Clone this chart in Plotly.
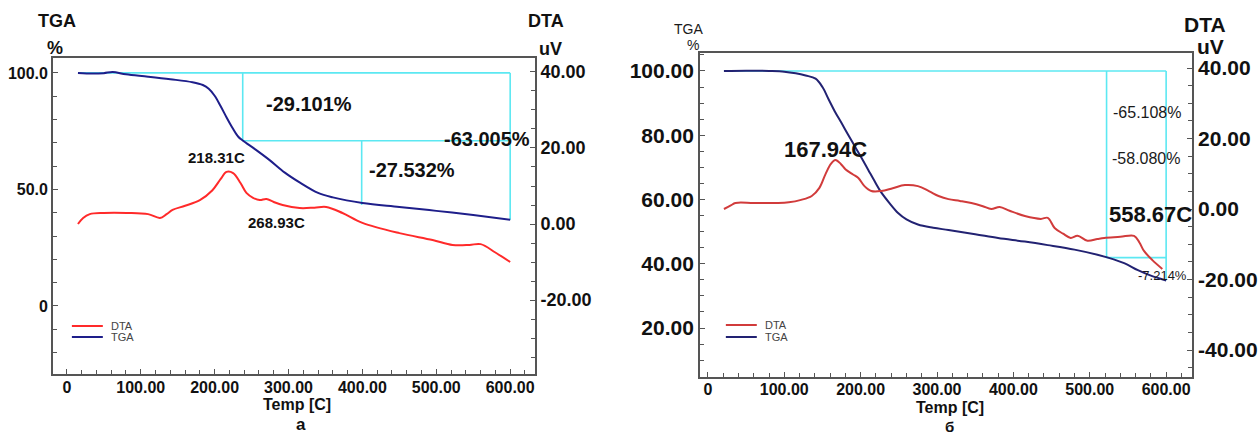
import plotly.graph_objects as go

W, H = 1258, 435

# ---------------- Panel a data ----------------
temp_tga_a = [15, 35, 50, 62, 80, 110, 140, 170, 184, 192, 200, 208, 216, 224, 232, 238, 255, 274, 295,
              315, 340, 360, 400, 450, 500, 550, 600]
tga_a = [100.0, 99.7, 99.9, 100.4, 99.4, 98.4, 97.3, 96.0, 94.8, 93.2, 90.2, 85.8, 81.0, 76.5, 72.6, 71.0,
         67.2, 62.7, 57.2, 53.0, 48.5, 46.6, 44.2, 42.5, 40.8, 39.0, 37.0]

temp_dta_a = [15, 22, 31, 50, 81, 110, 126, 135, 143, 160, 180, 197, 208, 216, 225, 235, 243, 252, 261,
              270, 280, 292, 315, 335, 351, 373, 400, 450, 495, 522, 545, 560, 580, 600]
dta_a = [0.0, 1.6, 2.6, 2.9, 2.9, 2.6, 1.6, 2.6, 3.7, 4.8, 6.3, 8.9, 11.8, 13.7, 13.4, 10.8, 8.2, 6.9, 6.3,
         6.6, 5.8, 5.0, 4.2, 4.3, 4.5, 2.9, 0.3, -2.4, -4.2, -5.5, -5.5, -5.3, -7.5, -10.0]

# mass-loss steps (temperature at end of step, loss %)
step_temp_a = [238, 399]
step_loss_a = [29.101, 27.532]
total_loss_a = 63.005
start_temp_a = 15
end_temp_a = 600

# ---------------- Panel b data ----------------
temp_tga_b = [21, 50, 80, 100, 115, 128, 141, 150, 158, 166, 175, 184, 193, 202, 210, 218, 227, 238, 249,
              260, 275, 295, 315, 350, 380, 415, 445, 480, 510, 524, 545, 563, 580, 600]
tga_b = [100.0, 100.1, 100.0, 99.8, 99.3, 98.6, 97.6, 95.0, 91.2, 87.5, 83.8, 80.0, 76.3, 72.6, 69.2,
         65.8, 62.2, 58.8, 55.8, 53.8, 52.2, 51.2, 50.5, 49.2, 48.0, 46.9, 45.8, 44.4, 42.8, 41.9, 40.2,
         38.0, 36.3, 34.8]

temp_dta_b = [21, 30, 36, 60, 90, 106, 122, 136, 146, 154, 161, 167, 174, 180, 190, 197, 205, 214, 227,
              242, 258, 275, 290, 302, 315, 330, 345, 360, 371, 382, 395, 415, 436, 445, 454, 465, 475,
              484, 497, 510, 519, 540, 558, 565, 571, 582, 595]
dta_b = [0.0, 1.0, 1.7, 1.7, 1.7, 1.9, 2.6, 3.7, 6.0, 9.9, 12.8, 13.9, 12.8, 11.3, 9.8, 8.8, 6.5, 5.1,
         5.1, 5.9, 6.8, 6.5, 5.0, 3.7, 2.8, 2.3, 1.7, 0.8, 0.0, 0.6, -0.5, -2.0, -2.8, -2.5, -5.4, -7.0,
         -8.2, -7.6, -9.0, -8.5, -8.2, -7.9, -7.6, -9.5, -11.9, -14.5, -17.0]

step_temp_b = [522]
step_loss_b = [58.080]
total_loss_b = 65.108
start_temp_b = 21
end_temp_b = 600

# tick labels
x_tickvals = [0, 100, 200, 300, 400, 500, 600]
x_ticktext = ["0", "100.00", "200.00", "300.00", "400.00", "500.00", "600.00"]
tga_a_tickvals = [0, 50, 100]
tga_a_ticktext = ["0", "50.0", "100.0"]
dta_a_tickvals = [-20, 0, 20, 40]
dta_a_ticktext = ["-20.00", "0.00", "20.00", "40.00"]
tga_b_tickvals = [20, 40, 60, 80, 100]
tga_b_ticktext = ["20.00", "40.00", "60.00", "80.00", "100.00"]
dta_b_tickvals = [-40, -20, 0, 20, 40]
dta_b_ticktext = ["-40.00", "-20.00", "0.00", "20.00", "40.00"]

FONT = "Arial, 'Liberation Sans', sans-serif"
CYAN = "#5ce8f2"
AXC = "#555555"


def px(x):
    return x / W


def py(y):
    return 1 - y / H


fig = go.Figure()


def step_lines(start_t, end_t, step_t, step_l, total, xa, ya):
    # cyan step boxes built from the step data
    lvl = 100.0
    xs, ys = [start_t, end_t, None, end_t, end_t, None], [100, 100, None, 100, 100 - total, None]
    for i, (t, l) in enumerate(zip(step_t, step_l)):
        new = lvl - l
        xs += [t, t, None]
        ys += [lvl, new, None]
        nxt = step_t[i + 1] if i + 1 < len(step_t) else end_t
        xs += [t, nxt, None]
        ys += [new, new, None]
        lvl = new
    fig.add_trace(go.Scatter(x=xs, y=ys, mode="lines", line=dict(color=CYAN, width=1.6),
                             xaxis=xa, yaxis=ya, showlegend=False, hoverinfo="skip"))


# Panel a
step_lines(start_temp_a, end_temp_a, step_temp_a[:1], step_loss_a[:1], total_loss_a, "x", "y")
lvl1 = 100 - step_loss_a[0]
fig.add_trace(go.Scatter(x=[step_temp_a[1], step_temp_a[1]], y=[lvl1, lvl1 - step_loss_a[1]], mode="lines",
                         line=dict(color=CYAN, width=1.6), xaxis="x", yaxis="y", showlegend=False,
                         hoverinfo="skip"))
fig.add_trace(go.Scatter(x=temp_dta_a, y=dta_a, mode="lines", line=dict(color="#ff2a2a", width=2),
                         xaxis="x", yaxis="y2", name="DTA", showlegend=False, line_shape="spline"))
fig.add_trace(go.Scatter(x=temp_tga_a, y=tga_a, mode="lines", line=dict(color="#1e1e8a", width=2),
                         xaxis="x", yaxis="y", name="TGA", showlegend=False, line_shape="spline"))

# Panel b
step_lines(start_temp_b, end_temp_b, step_temp_b, step_loss_b, total_loss_b, "x2", "y3")
fig.add_trace(go.Scatter(x=temp_dta_b, y=dta_b, mode="lines", line=dict(color="#d13b3b", width=2),
                         xaxis="x2", yaxis="y4", name="DTA", showlegend=False, line_shape="spline"))
fig.add_trace(go.Scatter(x=temp_tga_b, y=tga_b, mode="lines", line=dict(color="#222272", width=2),
                         xaxis="x2", yaxis="y3", name="TGA", showlegend=False, line_shape="spline"))

# domains
xa_dom = [px(53), px(536)]
ya_dom = [py(374), py(58)]
xb_dom = [px(701), px(1194)]
yb_dom = [py(377), py(53)]

common = dict(showgrid=False, zeroline=False, showline=True, linecolor=AXC, linewidth=1.5,
              ticks="inside", ticklen=5, tickcolor=AXC, tickwidth=1)


def minor(d):
    return dict(tickmode="linear", tick0=0, dtick=d, ticks="inside", ticklen=4, tickcolor=AXC, showgrid=False)


fig.update_layout(
    width=W, height=H, margin=dict(l=0, r=0, t=0, b=0),
    paper_bgcolor="white", plot_bgcolor="white", showlegend=False,
    font=dict(family=FONT, color="#111111"),
    xaxis=dict(domain=xa_dom, anchor="y", range=[-18.9, 633.8], mirror=True, tickmode="array",
               tickvals=x_tickvals, ticktext=x_ticktext, minor=minor(20), ticklabelstandoff=-2,
               tickfont=dict(size=16, color="#111", weight="bold"), **common),
    yaxis=dict(domain=ya_dom, anchor="x", range=[-29.2, 106.4], tickmode="array",
               tickvals=tga_a_tickvals, ticktext=tga_a_ticktext, minor=minor(10),
               tickfont=dict(size=16, color="#111", weight="bold"), **common),
    yaxis2=dict(overlaying="y", side="right", anchor="x", range=[-39.47, 43.68], tickmode="array",
                tickvals=dta_a_tickvals, ticktext=dta_a_ticktext, minor=minor(5),
                tickfont=dict(size=18, color="#111", weight="bold"), **common),
    xaxis2=dict(domain=xb_dom, anchor="y3", range=[-10.5, 634], mirror=True, tickmode="array",
                tickvals=x_tickvals, ticktext=x_ticktext, minor=minor(20), ticklabelstandoff=-3,
                tickfont=dict(size=16, color="#111", weight="bold"), **common),
    yaxis3=dict(domain=yb_dom, anchor="x2", range=[4.75, 105.6], tickmode="array",
                tickvals=tga_b_tickvals, ticktext=tga_b_ticktext, minor=minor(5),
                tickfont=dict(size=21, color="#111", weight="bold"), **common),
    yaxis4=dict(overlaying="y3", side="right", anchor="x2", range=[-47.66, 44.26], tickmode="array",
                tickvals=dta_b_tickvals, ticktext=dta_b_ticktext, minor=minor(5),
                tickfont=dict(size=21, color="#111", weight="bold"), **common),
)

annots = [
    # panel a axis headers
    ("TGA", 57, 21, 18),
    ("%", 55, 48, 18),
    ("DTA", 547, 21, 18),
    ("uV", 551, 49, 18),
    # panel a labels
    ("-29.101%", 309, 104, 20),
    ("-27.532%", 413, 170, 20),
    ("-63.005%", 488, 139, 20),
    ("218.31C", 217, 157, 15),
    ("268.93C", 277, 222, 15),
    ("Temp [C]", 297, 404, 16),
    ("а", 301, 424, 17),
    # panel b axis headers
    ("DTA", 1207, 24, 21),
    ("uV", 1212, 47, 21),
    # panel b labels
    ("167.94C", 827, 149, 22),
    ("558.67C", 1152, 215, 22),
    ("Temp [C]", 952, 407, 16),
    ("б", 951, 426, 15),
]
for txt, x, y, s in annots:
    fig.add_annotation(x=px(x), y=py(y), xref="paper", yref="paper", text=txt, showarrow=False,
                       xanchor="center", yanchor="middle",
                       font=dict(size=s, color="#111", family=FONT, weight="bold"))

annots_regular = [
    ("TGA", 690, 29, 14),
    ("%", 694, 45, 14),
    ("-65.108%", 1149, 113, 16),
    ("-58.080%", 1148, 158, 16),
    ("-7.214%", 1164, 275, 13),
]
for txt, x, y, s in annots_regular:
    fig.add_annotation(x=px(x), y=py(y), xref="paper", yref="paper", text=txt, showarrow=False,
                       xanchor="center", yanchor="middle", font=dict(size=s, color="#1a1a1a", family=FONT))

# legends (manual, compact like the original)
legend_items = [("DTA", "#ff2a2a", 72, 103, 326), ("TGA", "#1e1e8a", 72, 103, 337),
                ("DTA", "#d13b3b", 727, 758, 325), ("TGA", "#222272", 727, 758, 337)]
for name, col, x0, x1, y in legend_items:
    fig.add_shape(type="line", xref="paper", yref="paper", x0=px(x0), x1=px(x1), y0=py(y), y1=py(y),
                  line=dict(color=col, width=2))
    fig.add_annotation(x=px(x1 + 6), y=py(y), xref="paper", yref="paper", text=name, showarrow=False,
                       xanchor="left", yanchor="middle", font=dict(size=11, color="#444", family=FONT))

fig.write_html("out.html", config={"displayModeBar": False},
               post_script="document.body.style.margin='0';document.body.style.overflow='hidden';")
